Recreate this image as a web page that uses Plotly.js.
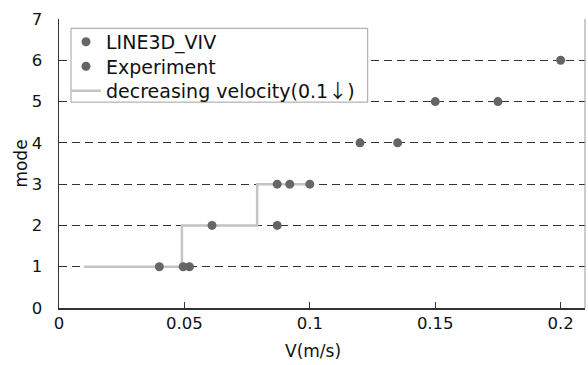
<!DOCTYPE html>
<html>
<head>
<meta charset="utf-8">
<script src="https://cdn.plot.ly/plotly-3.0.1.min.js"></script>
<style>html,body{margin:0;padding:0;background:#fff;}#chart{width:588px;height:365px;}</style>
</head>
<body>
<div id="chart"></div>
<script>
// Data
const vivV = [0.04, 0.0495, 0.061, 0.087, 0.092, 0.1];
const vivMode = [1, 1, 2, 3, 3, 3];
const expV = [0.052, 0.087, 0.12, 0.135, 0.15, 0.175, 0.2];
const expMode = [1, 2, 4, 4, 5, 5, 6];
const decV = [0.01, 0.049, 0.049, 0.079, 0.079, 0.1];
const decMode = [1, 1, 2, 2, 3, 3];
const xTicks = [0, 0.05, 0.1, 0.15, 0.2];
const xTickText = ['0', '0.05', '0.1', '0.15', '0.2'];
const yTicks = [0, 1, 2, 3, 4, 5, 6, 7];
const xTitle = 'V(m/s)';
const yTitle = 'mode';

const FONT = '"DejaVu Sans", sans-serif';
const decName = 'decreasing velocity(0.1<span style="font-family:Noto Sans CJK JP">↓</span>)';

const traces = [
  {x: decV, y: decMode, mode: 'lines', name: 'decreasing velocity',
   line: {color: '#c4c4c4', width: 2.5}, showlegend: false},
  {x: vivV, y: vivMode, mode: 'markers', name: 'LINE3D_VIV', legend: 'legend',
   marker: {color: '#676767', size: 9}},
  {x: expV, y: expMode, mode: 'markers', name: 'Experiment', legend: 'legend2',
   marker: {color: '#646464', size: 9}},
  {x: [null], y: [null], mode: 'lines', name: decName, legend: 'legend3',
   line: {color: '#c4c4c4', width: 2.5}, hoverinfo: 'skip'}
];

const legFont = {family: FONT, size: 19, color: '#111'};
function leg(y) {
  return {x: 0.0133, y: y, xanchor: 'left', yanchor: 'middle',
          bgcolor: 'rgba(0,0,0,0)', borderwidth: 0, font: legFont, itemwidth: 30};
}

const layout = {
  width: 588, height: 365,
  margin: {l: 59, r: 3, t: 19, b: 56.5},
  paper_bgcolor: '#fff', plot_bgcolor: '#fff',
  font: {family: FONT, size: 17, color: '#111'},
  showlegend: true,
  legend: leg(0.9206),
  legend2: leg(0.8359),
  legend3: leg(0.7513),
  xaxis: {range: [0, 0.2097], tickvals: xTicks, ticktext: xTickText,
          showgrid: false, zeroline: false, showline: true, linecolor: '#333', linewidth: 1.5,
          ticks: 'inside', ticklen: 6, tickcolor: '#333',
          tickfont: {family: FONT, size: 16.5, color: '#111'},
          fixedrange: true},
  yaxis: {range: [0, 7], tickvals: yTicks,
          showgrid: true, gridcolor: '#333', griddash: '8px,5px', gridwidth: 1,
          zeroline: false, showline: true, linecolor: '#333', linewidth: 1.5,
          ticks: 'inside', ticklen: 6, tickcolor: '#333', ticklabelstandoff: 12,
          tickfont: {family: FONT, size: 16.5, color: '#111'},
          title: {text: yTitle, standoff: 0, font: {family: FONT, size: 17, color: '#111'}},
          fixedrange: true},
  annotations: [
    {text: xTitle, xref: 'paper', yref: 'paper', x: 0.483, y: -0.150,
     xanchor: 'center', yanchor: 'middle', showarrow: false,
     font: {family: FONT, size: 17, color: '#111'}}
  ],
  shapes: [
    {type: 'line', xref: 'paper', yref: 'paper', x0: 1, x1: 1, y0: 0, y1: 1,
     line: {color: '#999', width: 1}},
    {type: 'rect', xref: 'paper', yref: 'paper', x0: 0.0228, x1: 0.5869, y0: 0.7123, y1: 0.9679,
     fillcolor: '#fff', line: {color: '#a0a0a0', width: 1}, layer: 'above'}
  ]
};

Plotly.newPlot('chart', traces, layout, {displayModeBar: false, staticPlot: true});
</script>
</body>
</html>
